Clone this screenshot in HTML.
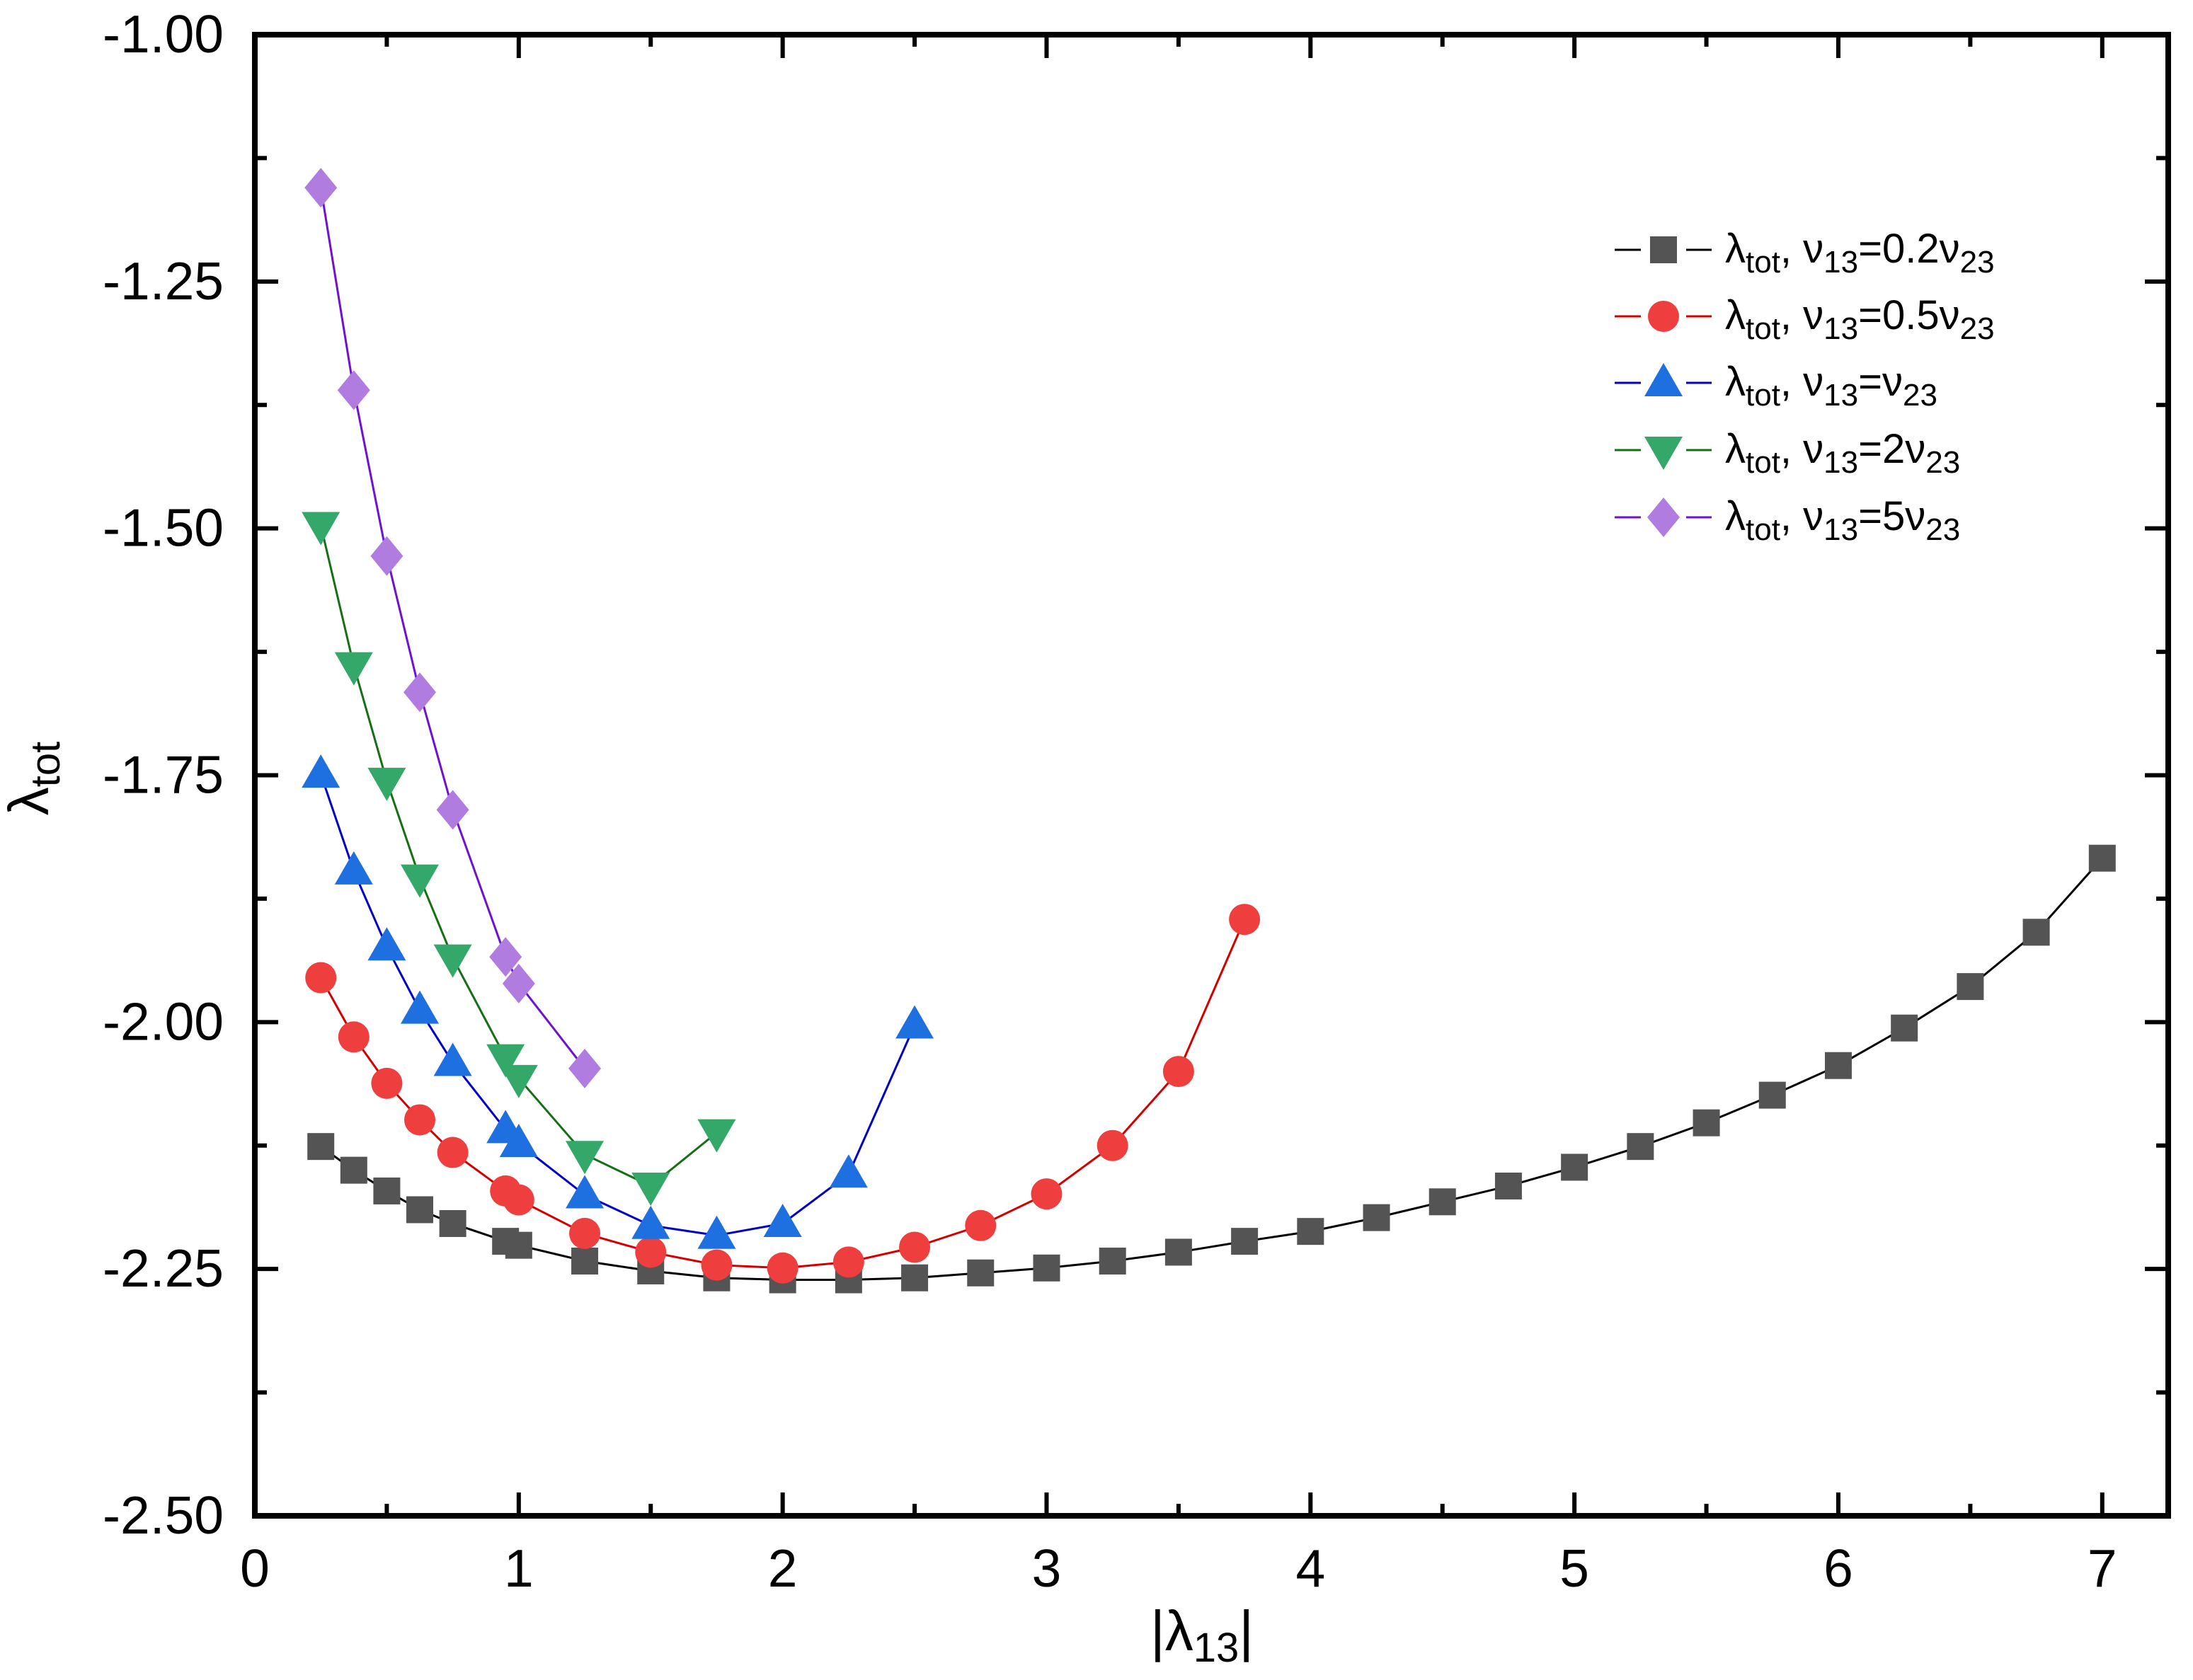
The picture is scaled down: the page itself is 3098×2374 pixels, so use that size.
<!DOCTYPE html>
<html><head><meta charset="utf-8"><style>
html,body{margin:0;padding:0;background:#fff;}
svg{display:block;font-family:"Liberation Sans",Arial,sans-serif;}
</style></head><body>
<svg id="chart" width="3098" height="2374" viewBox="0 0 3098 2374" xmlns="http://www.w3.org/2000/svg">
<g id="lines"></g>
<g id="marks"></g>
<g id="axes"></g>
<text x="1698" y="2332" font-size="80" text-anchor="middle">|λ<tspan font-size="58" dy="16">13</tspan><tspan dy="-16">|</tspan></text>
<text transform="translate(68,1100) rotate(-90)" font-size="80" text-anchor="middle">λ<tspan font-size="58" dy="16">tot</tspan></text>
<g id="legend"></g>
</svg>
<script>
const xTicks=[0,1,2,3,4,5,6,7];
const yTicks=[-1.00,-1.25,-1.50,-1.75,-2.00,-2.25,-2.50];
const yTickLabels=["-1.00","-1.25","-1.50","-1.75","-2.00","-2.25","-2.50"];
const seriesNames=["0.2v","0.5v","v","2v","5v"];
const xBlack=[0.25,0.375,0.5,0.625,0.75,0.95,1.0,1.25,1.5,1.75,2.0,2.25,2.5,2.75,3.0,3.25,3.5,3.75,4.0,4.25,4.5,4.75,5.0,5.25,5.5,5.75,6.0,6.25,6.5,6.75,7.0];
const yBlack=[-2.126,-2.150,-2.171,-2.190,-2.204,-2.222,-2.226,-2.242,-2.252,-2.259,-2.261,-2.261,-2.259,-2.254,-2.249,-2.242,-2.233,-2.222,-2.212,-2.198,-2.182,-2.166,-2.147,-2.126,-2.102,-2.074,-2.044,-2.006,-1.964,-1.909,-1.834];
const xRed=[0.25,0.375,0.5,0.625,0.75,0.95,1.0,1.25,1.5,1.75,2.0,2.25,2.5,2.75,3.0,3.25,3.5,3.75];
const yRed=[-1.955,-2.015,-2.062,-2.099,-2.132,-2.171,-2.180,-2.214,-2.233,-2.246,-2.249,-2.243,-2.228,-2.206,-2.174,-2.125,-2.050,-1.896];
const xBlue=[0.25,0.375,0.5,0.625,0.75,0.95,1.0,1.25,1.5,1.75,2.0,2.25,2.5];
const yBlue=[-1.749,-1.847,-1.924,-1.988,-2.041,-2.109,-2.123,-2.175,-2.206,-2.216,-2.204,-2.154,-2.003];
const xGreen=[0.25,0.375,0.5,0.625,0.75,0.95,1.0,1.25,1.5,1.75];
const yGreen=[-1.497,-1.639,-1.756,-1.854,-1.935,-2.036,-2.057,-2.134,-2.166,-2.112];
const xPurple=[0.25,0.375,0.5,0.625,0.75,0.95,1.0,1.25];
const yPurple=[-1.155,-1.360,-1.528,-1.666,-1.785,-1.934,-1.961,-2.047];

const NS="http://www.w3.org/2000/svg";
const L=360,R=3063,T=49,B=2142,XMIN=0,XMAX=7.25,YMIN=-2.5,YMAX=-1.0;
const sx=v=>L+(v-XMIN)/(XMAX-XMIN)*(R-L);
const sy=v=>B-(v-YMIN)/(YMAX-YMIN)*(B-T);
function mk(tag,attrs,parent){const e=document.createElementNS(NS,tag);for(const k in attrs)e.setAttribute(k,attrs[k]);parent.appendChild(e);return e;}
const series=[
 {xs:xBlack,ys:yBlack,line:"#000",fill:"#545454",shape:"square",name:"series-0p2"},
 {xs:xRed,ys:yRed,line:"#d40000",fill:"#ee3e3e",shape:"circle",name:"series-0p5"},
 {xs:xBlue,ys:yBlue,line:"#0000c8",fill:"#1e6fe0",shape:"up",name:"series-1"},
 {xs:xGreen,ys:yGreen,line:"#157015",fill:"#33a869",shape:"down",name:"series-2"},
 {xs:xPurple,ys:yPurple,line:"#7010d0",fill:"#b07ce0",shape:"diamond",name:"series-5"}
];
function marker(shape,cx,cy,fill,parent){
 let e;
 if(shape==="square") e=mk("rect",{x:cx-19,y:cy-19,width:38,height:38,fill:fill},parent);
 else if(shape==="circle") e=mk("circle",{cx:cx,cy:cy,r:22,fill:fill},parent);
 else if(shape==="up") e=mk("polygon",{points:`${cx},${cy-28} ${cx-27},${cy+19} ${cx+27},${cy+19}`,fill:fill},parent);
 else if(shape==="down") e=mk("polygon",{points:`${cx},${cy+28} ${cx-27},${cy-19} ${cx+27},${cy-19}`,fill:fill},parent);
 else e=mk("polygon",{points:`${cx},${cy-28} ${cx+23},${cy} ${cx},${cy+28} ${cx-23},${cy}`,fill:fill},parent);
 return e;
}
const gl=document.getElementById("lines"),gm=document.getElementById("marks");
series.forEach(s=>{
 const pl=mk("polyline",{points:s.xs.map((x,i)=>sx(x)+","+sy(s.ys[i])).join(" "),fill:"none",stroke:s.line,"stroke-width":3},gl);
 
 
 s.xs.forEach((x,i)=>{
  const m=marker(s.shape,sx(x),sy(s.ys[i]),s.fill,gm);
  
  
 });
});
const ga=document.getElementById("axes");
const frame=mk("rect",{x:L,y:T,width:R-L,height:B-T,fill:"none",stroke:"#000","stroke-width":8},ga);


for(let v=0;v<=7.001;v+=0.5){
 const major=Math.abs(v-Math.round(v))<1e-6, len=major?33:17, x=sx(v);
 mk("line",{x1:x,y1:B,x2:x,y2:B-len,stroke:"#000","stroke-width":6},ga);
 mk("line",{x1:x,y1:T,x2:x,y2:T+len,stroke:"#000","stroke-width":6},ga);
}
for(let v=-2.5;v<=-0.999;v+=0.125){
 const major=Math.abs(v*4-Math.round(v*4))<1e-6, len=major?33:17, y=sy(v);
 mk("line",{x1:L,y1:y,x2:L+len,y2:y,stroke:"#000","stroke-width":6},ga);
 mk("line",{x1:R,y1:y,x2:R-len,y2:y,stroke:"#000","stroke-width":6},ga);
}
xTicks.forEach(v=>{
 const t=mk("text",{x:sx(v),y:2242,"font-size":75,"text-anchor":"middle"},ga);t.textContent=String(v);
 
 
});
yTicks.forEach((v,i)=>{
 const t=mk("text",{x:316,y:sy(v)+25,"font-size":75,"text-anchor":"end"},ga);t.textContent=yTickLabels[i];
 
 
});
const lg=document.getElementById("legend");
const legendRhs=[["=0.2ν","23"],["=0.5ν","23"],["=ν","23"],["=2ν","23"],["=5ν","23"]];
const rowsY=[353,447,541,636,731];
series.forEach((s,i)=>{
 const y=rowsY[i];
 const g=mk("g",{},lg);
 
 
 mk("line",{x1:2281,y1:y,x2:2318,y2:y,stroke:s.line,"stroke-width":3},g);
 mk("line",{x1:2382,y1:y,x2:2418,y2:y,stroke:s.line,"stroke-width":3},g);
 marker(s.shape,2350,y,s.fill,g);
 const t=mk("text",{x:2437,y:y+18,"font-size":58},g);
 t.innerHTML=`λ<tspan font-size="44" dy="14">tot</tspan><tspan dy="-14">, ν</tspan><tspan font-size="44" dy="14">13</tspan><tspan dy="-14">${legendRhs[i][0]}</tspan><tspan font-size="44" dy="14">${legendRhs[i][1]}</tspan>`;
});
</script>
</body></html>
